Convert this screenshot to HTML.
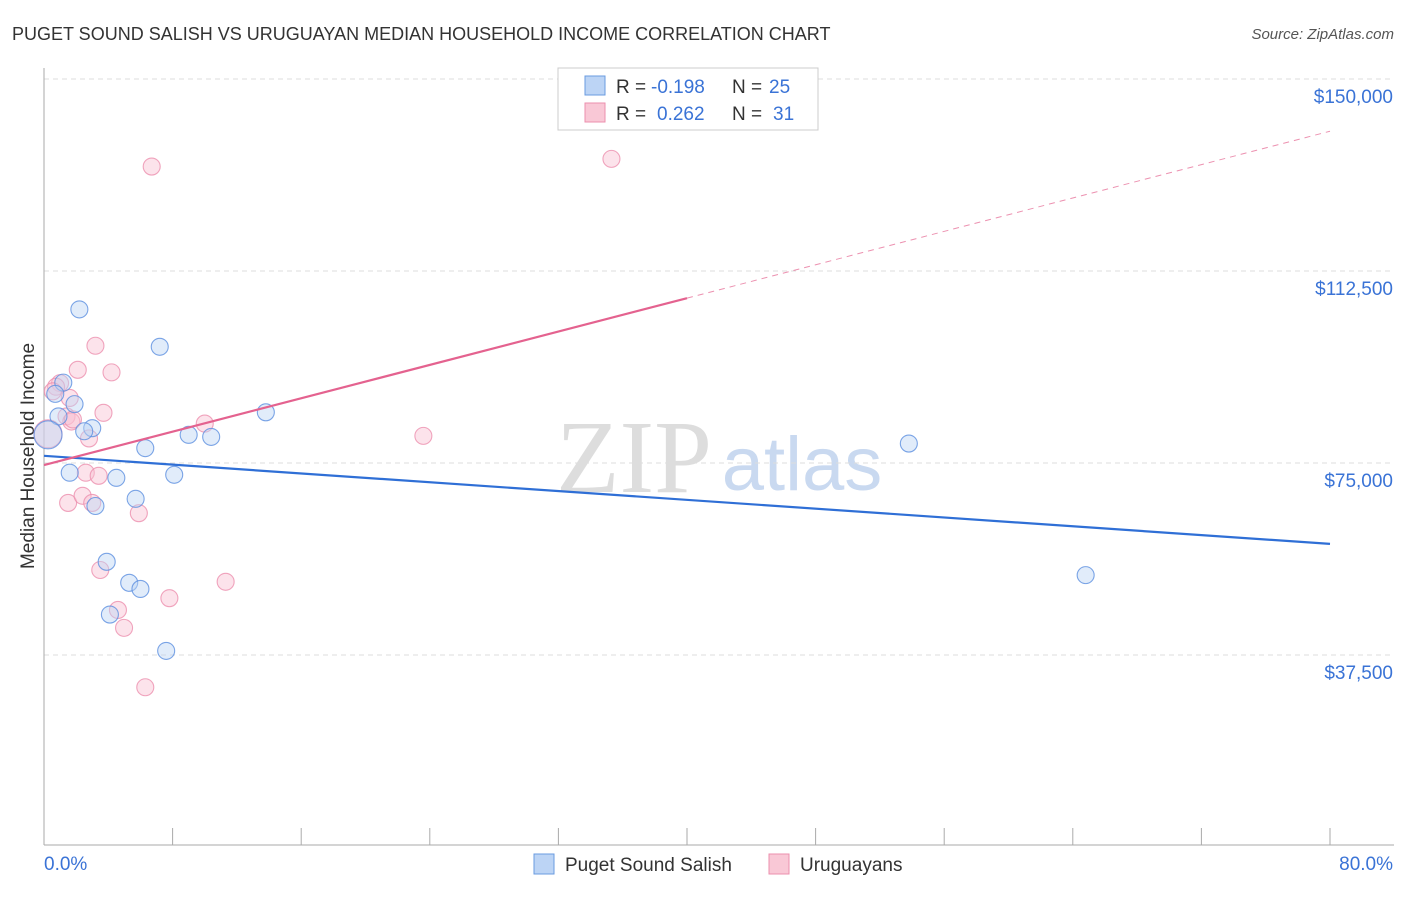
<!DOCTYPE html>
<html><head><meta charset="utf-8"><style>
body{margin:0;background:#fff;font-family:"Liberation Sans",sans-serif;}
</style></head><body>
<svg width="1406" height="892" xmlns="http://www.w3.org/2000/svg" id="chart">
<text x="12" y="40" font-size="18" fill="#333">PUGET SOUND SALISH VS URUGUAYAN MEDIAN HOUSEHOLD INCOME CORRELATION CHART</text>
<text x="1394" y="39" font-size="15" fill="#555" text-anchor="end" font-style="italic">Source: ZipAtlas.com</text>
<text x="634" y="492" font-size="104" fill="#ddd" font-family="Liberation Serif" text-anchor="middle">ZIP</text>
<text x="802" y="490" font-size="76" fill="#c9d9f0" text-anchor="middle">atlas</text>
<text transform="translate(34,456) rotate(-90)" font-size="19" fill="#333" text-anchor="middle">Median Household Income</text>
<g id="grid"></g><g id="axes"></g><g id="marks"></g>
<g>
<rect x="558" y="68" width="260" height="62" fill="#fff" stroke="#ccc"/>
<rect x="585" y="76" width="20" height="19" fill="#bcd4f5" stroke="#6a9be0"/>
<rect x="585" y="103" width="20" height="19" fill="#f9c8d6" stroke="#ec8fae"/>
<text x="616" y="93" font-size="19" fill="#333">R =</text>
<text x="651" y="93" font-size="19" fill="#3a73d6">-0.198</text>
<text x="732" y="93" font-size="19" fill="#333">N =</text>
<text x="769" y="93" font-size="19" fill="#3a73d6">25</text>
<text x="616" y="120" font-size="19" fill="#333">R =</text>
<text x="657" y="120" font-size="19" fill="#3a73d6">0.262</text>
<text x="732" y="120" font-size="19" fill="#333">N =</text>
<text x="773" y="120" font-size="19" fill="#3a73d6">31</text>
</g>
<g>
<rect x="534" y="854" width="20" height="20" fill="#bcd4f5" stroke="#6a9be0"/>
<text x="565" y="871" font-size="19" fill="#333">Puget Sound Salish</text>
<rect x="769" y="854" width="20" height="20" fill="#f9c8d6" stroke="#ec8fae"/>
<text x="800" y="871" font-size="19" fill="#333">Uruguayans</text>
</g>
</svg>
<script>
const yTicks=[37500,75000,112500,150000];
const yTickLabels=["$37,500","$75,000","$112,500","$150,000"];
const xTicks=[0,8,16,24,32,40,48,56,64,72,80];
const blueX=[2.2,7.2,1.2,1.9,0.9,3.0,2.5,9.0,10.4,13.8,6.3,53.8,1.6,4.5,8.1,5.7,3.2,3.9,5.3,6.0,4.1,7.6,64.8,0.25,0.7];
const blueY=[105000,97700,90700,86500,84100,81800,81200,80500,80100,84900,77900,78800,73100,72100,72700,68000,66600,55700,51600,50400,45400,38300,53100,80500,88500];
const pinkX=[6.7,35.3,3.2,2.1,4.2,1.0,0.75,1.6,3.7,1.4,1.7,2.8,10.0,23.6,0.25,2.6,3.4,1.5,2.4,3.0,5.9,3.5,4.6,4.98,7.8,11.3,6.3,0.55,1.8];
const pinkY=[132900,134400,97900,93200,92700,90600,89900,87700,84800,84100,83100,79800,82700,80300,80700,73100,72500,67200,68600,67200,65200,54100,46300,42800,48600,51800,31200,89000,83500];
const blueLine=[76400,59200], pinkLine=[74600,139800];
const NS='http://www.w3.org/2000/svg';
const X=p=>44+p/80*1286, Y=v=>847-v/37500*192;
function mk(t,a,parent){const e=document.createElementNS(NS,t);for(const k in a)e.setAttribute(k,a[k]);document.getElementById(parent).appendChild(e);return e;}
yTicks.forEach((v,i)=>{
 const l=mk('line',{x1:44,x2:1394,y1:Y(v),y2:Y(v),stroke:'#ddd','stroke-dasharray':'5,4'},'grid');
 
 
 const t=mk('text',{x:1393,y:Y(v)+24,'font-size':19,fill:'#3a73d6','text-anchor':'end'},'axes');
 t.textContent=yTickLabels[i];
 
 
});
const ya=mk('line',{x1:44,x2:44,y1:68,y2:845,stroke:'#aaa'},'axes');


const xa=mk('line',{x1:44,x2:1394,y1:845,y2:845,stroke:'#aaa'},'axes');


xTicks.forEach(p=>{const t=mk('line',{x1:X(p),x2:X(p),y1:828,y2:845,stroke:'#aaa'},'axes');
 
 });
[[0,'start',44,'0.0%'],[80,'end',1393,'80.0%']].forEach(d=>{const t=mk('text',{x:d[2],y:870,'font-size':19,fill:'#3a73d6','text-anchor':d[1]},'axes');t.textContent=d[3];
 
 });
function dots(xs,ys,fill,stroke,name){xs.forEach((x,i)=>{const r=(x<0.5)?14:8.5;const c=mk('circle',{cx:X(x),cy:Y(ys[i]),r:r,fill:fill,'fill-opacity':0.45,stroke:stroke,'stroke-width':1.1,'stroke-opacity':0.8},'marks');
 
 });}
dots(pinkX,pinkY,'#f9c0d2','#ec8fae','uruguayans-point');
dots(blueX,blueY,'#bcd4f5','#5b8fe0','puget-sound-salish-point');
const bl=mk('line',{x1:X(0),y1:Y(blueLine[0]),x2:X(80),y2:Y(blueLine[1]),stroke:'#2f6fd6','stroke-width':2.2},'marks');


const ps=pinkLine[0]+(pinkLine[1]-pinkLine[0])*40/80;
const pl=mk('line',{x1:X(0),y1:Y(pinkLine[0]),x2:X(40),y2:Y(ps),stroke:'#e4628f','stroke-width':2.2},'marks');


const pd=mk('line',{x1:X(40),y1:Y(ps),x2:X(80),y2:Y(pinkLine[1]),stroke:'#e4628f','stroke-width':1,'stroke-dasharray':'6,5','stroke-opacity':0.7},'marks');


</script>
</body></html>
